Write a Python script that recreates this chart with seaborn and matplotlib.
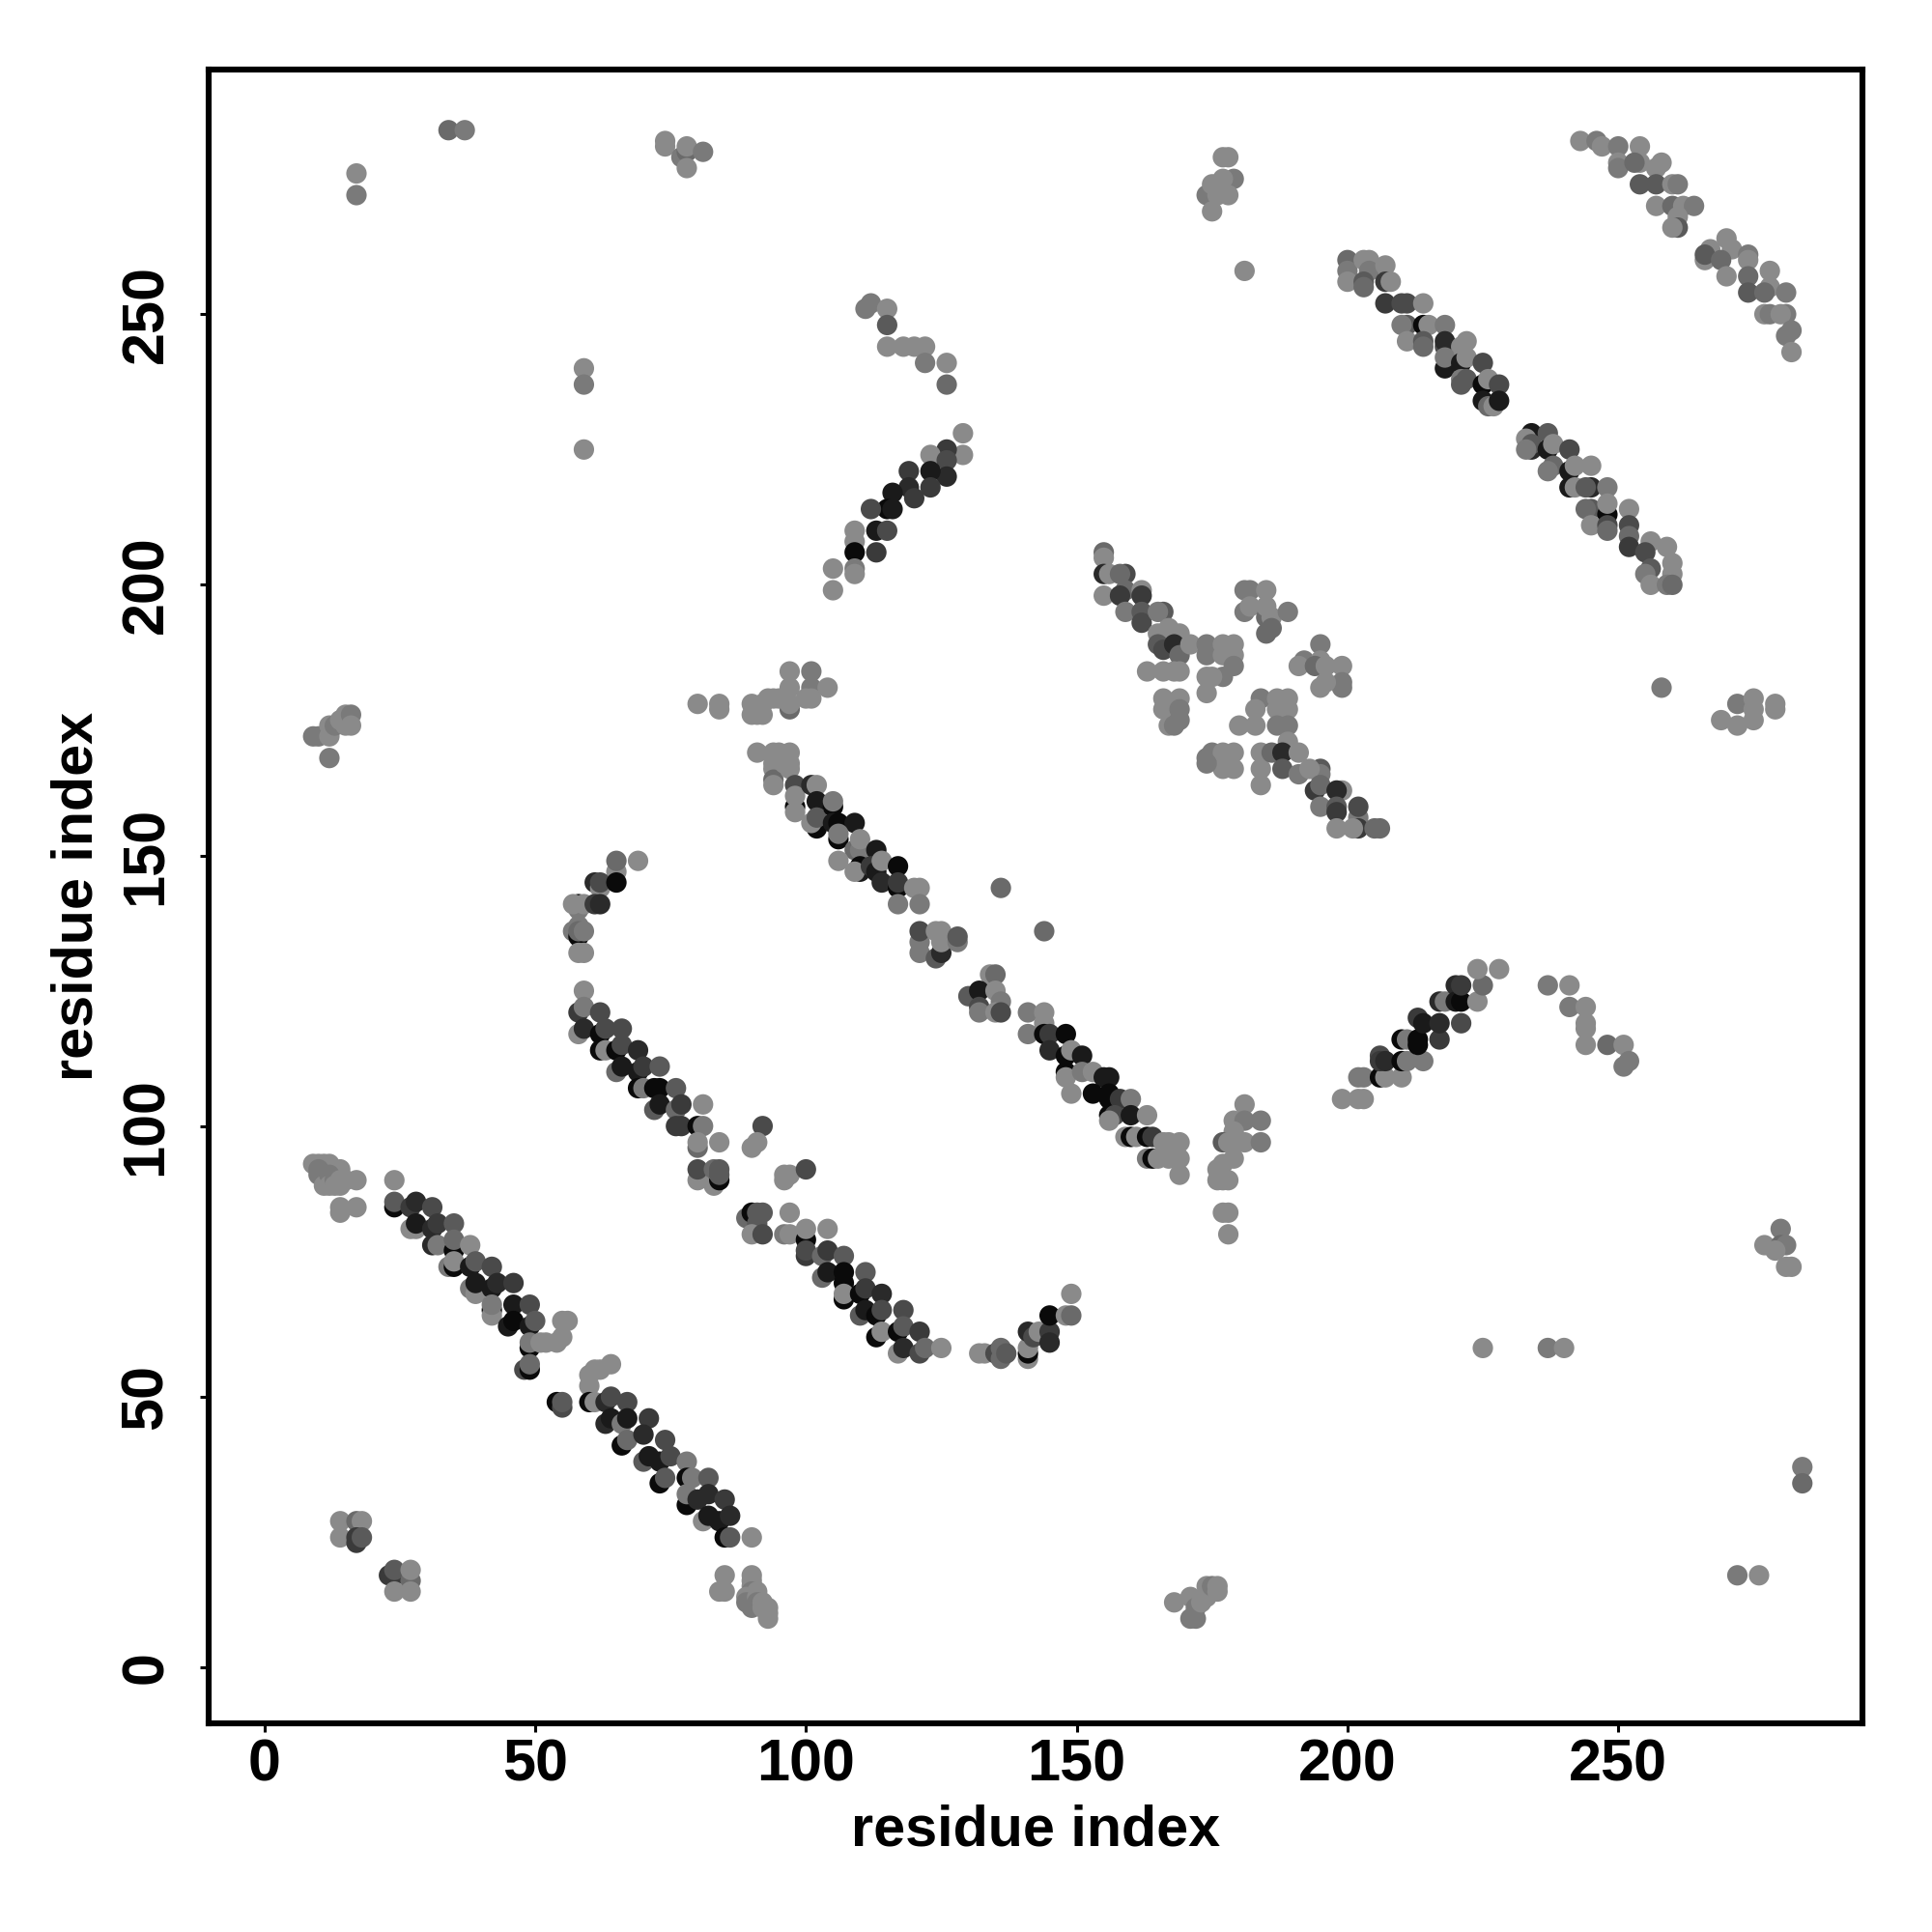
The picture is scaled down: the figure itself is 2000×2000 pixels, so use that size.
import matplotlib
matplotlib.use('Agg')
import matplotlib.pyplot as plt
import pandas as pd
import seaborn as sns

# every contact is (residue x, residue y, grey level 0 = black .. 8 = light grey)
corner_a = [(9,93,8),(10,93,8),(11,93,8),(12,93,8),(13,92,8),(14,92,8),(10,92,7),(10,91,7),(11,90,7),(11,89,8),
            (12,91,7),(12,89,8),(13,90,7),(13,89,8),(14,89,8),(14,90,8),(15,90,8),(17,90,8),(24,90,8),(14,85,8),(14,84,8),(17,85,8)]
helix_a1 = [(24,85,0),(24,86,5),(27,85,3),(28,86,2),(31,85,4),(27,81,8),(28,81,8),(28,82,1),(31,81,2),(32,82,3),(35,82,5),
            (31,78,2),(32,78,7),(35,77,0),(35,79,6),(38,78,8),(34,74,7),(35,74,0),(35,75,8),(38,74,1),(39,75,5),(42,74,4),
            (38,70,7),(39,69,8),(39,71,1),(42,70,1),(43,71,2),(46,71,3),(42,66,0),(42,65,8),(42,67,7),(45,63,1),(46,67,1),(49,67,4),
            (46,64,0),(49,63,1),(50,64,5),(49,59,0),(49,60,7),(51,60,8),(52,60,8),(54,60,8),(55,61,8),(55,64,8),(56,64,8),
            (48,55,4),(49,55,0),(49,56,6),(54,49,0),(55,48,4),(55,49,5)]
helix_a2 = [(64,56,8),(61,55,8),(62,55,8),(60,54,8),(60,52,8),(60,49,0),(61,49,8),(63,49,2),(64,50,4),(67,49,4),
            (63,45,2),(64,46,1),(66,45,7),(67,46,1),(71,46,3),(66,41,0),(67,42,6),(70,43,2),(74,42,4),
            (70,38,5),(71,39,1),(73,38,1),(75,39,4),(78,38,7),(73,34,0),(74,35,5),(78,35,0),(79,35,7),(82,35,5),
            (78,30,0),(78,32,7),(80,31,2),(82,32,2),(85,31,3),(81,27,8),(82,28,1),(84,27,1),(86,28,2),(85,24,0),(86,24,5),(90,24,8)]
corner_b = [(85,17,8),(84,14,8),(85,14,8),(90,17,8),(90,16,8),(90,15,8),(90,14,7),(91,14,8),(89,13,8),(89,12,7),(90,12,7),
            (90,11,7),(91,13,8),(91,12,7),(92,12,8),(92,11,8),(93,11,8),(93,10,8),(93,9,8)]
corner_c = [(14,27,8),(17,27,6),(18,27,8),(14,24,8),(17,23,3),(17,24,3),(18,24,5),(23,17,3),(24,17,3),(24,18,5),(27,16,6),(27,18,8),(24,14,8),(27,14,8)]

hook_b = [(65,147,8),(65,149,6),(69,149,8),(61,145,2),(62,144,8),(62,145,4),(65,145,0),(58,141,0),(58,140,7),(57,141,8),(59,141,8),
          (61,141,3),(62,141,2),(57,136,7),(58,135,0),(58,137,7),(58,136,6),(59,136,7),(58,132,8),(59,132,8),(59,125,8)]
helix_b1 = [(58,121,3),(59,122,7),(62,121,4),(58,117,8),(59,118,2),(62,117,0),(63,118,4),(66,118,4),(62,114,0),(63,114,8),(65,114,0),
            (66,115,4),(69,114,2),(65,110,6),(66,111,1),(69,110,1),(70,111,3),(73,111,5),(69,107,0),(70,107,7),(72,107,0),(73,107,0),(76,107,5),
            (72,103,5),(73,104,1),(76,103,6),(77,104,3),(81,104,8),(76,100,3),(77,100,3),(80,100,0),(81,100,7),(92,100,4),
            (80,96,6),(80,97,8),(84,97,8),(90,96,8),(91,97,8),(80,90,8),(80,92,4),(83,89,8),(84,90,0),(83,92,6),(84,92,5),(84,91,5),
            (96,91,8),(97,91,8),(96,90,8),(100,92,4)]
helix_b2 = [(89,83,6),(90,84,0),(91,84,5),(92,84,5),(91,82,5),(97,84,8),(90,80,8),(92,80,4),(96,80,7),(97,80,8),(100,79,0),(100,81,8),(104,81,8),
            (100,76,3),(100,77,4),(103,76,6),(104,77,3),(107,76,5),(103,72,6),(104,73,1),(107,71,0),(107,73,0),(111,73,5),
            (107,68,0),(107,69,8),(110,69,0),(111,70,3),(114,69,2),(110,65,5),(111,66,1),(113,65,0),(114,66,4),(118,66,4),
            (113,61,0),(114,62,8),(117,62,0),(118,63,5),(121,62,3),(117,58,8),(118,59,2),(121,58,4),(122,59,6),(125,59,8)]
turn_b = [(132,58,8),(133,58,8),(135,58,4),(136,57,6),(136,59,6),(137,58,5),(141,57,8),(141,58,0),(141,59,8),(141,62,2),(142,61,4),
          (143,62,8),(145,62,3),(145,60,2),(145,65,0),(148,65,8),(149,65,6),(149,69,8)]

helix_c1 = [(97,184,8),(101,184,7),(97,181,8),(97,177,6),(97,178,8),(101,181,7),(100,179,8),(101,179,8),(104,181,8),
            (80,178,8),(84,178,8),(84,177,8),(90,178,8),(90,176,8),(91,176,8),(92,176,8),(91,177,8),(92,178,8),(93,179,8),(94,179,8),(95,179,8),
            (91,169,8),(94,169,8),(95,169,8),(97,169,8),(94,167,8),(94,166,8),(94,164,6),(94,163,8),(97,167,8),(97,166,8),(96,167,8),
            (98,159,0),(98,158,8),(98,163,4),(98,161,8),(101,163,2),(102,163,8),(102,155,0),(102,160,1),(101,156,8),(102,157,5),(105,159,0),(105,160,7),
            (105,156,1),(106,156,0),(109,156,1),(106,153,0),(106,154,7),(109,151,6),(110,151,7),(110,153,8),(113,151,1),(106,149,8),
            (110,147,1),(110,148,0),(109,147,8),(112,148,3),(113,147,1),(114,149,8),(117,148,0),(114,145,2),(117,144,0),(117,145,3),
            (120,144,8),(121,144,8),(117,141,7),(121,141,7)]
helix_c2 = [(121,134,7),(121,136,4),(121,132,7),(124,131,5),(125,132,2),(124,136,8),(125,136,8),(125,134,8),(128,134,7),(128,135,5),
            (136,144,6),(144,136,6),(134,128,8),(135,128,6),(130,124,5),(132,125,1),(132,122,4),(132,121,7),(135,125,8),(136,123,7),(135,121,8),(136,121,4),
            (141,121,7),(144,121,8),(144,119,8),(141,117,7),(144,117,0),(145,117,3),(148,117,0),(145,114,2),(148,113,0),(149,114,8),(151,113,1),
            (148,110,0),(148,109,8),(151,110,7),(153,110,8),(155,109,1),(156,109,1),(149,106,8),(153,106,0),(156,105,0),(156,106,0),(158,105,3),(160,105,7),
            (156,102,0),(157,102,4),(156,101,8),(160,102,1),(163,102,8),(159,98,8),(160,98,0),(161,98,8),(163,98,0),(164,98,3)]
cluster_c = [(163,94,7),(164,94,0),(165,94,8),(166,97,8),(167,94,8),(167,97,8),(168,96,8),(169,94,8),(169,97,8),(168,95,8),(169,91,8),
             (181,104,8),(179,101,8),(181,101,7),(184,101,7),(179,99,8),(177,97,5),(178,97,8),(179,97,8),(181,97,8),(184,97,7),
             (179,94,8),(177,93,8),(176,92,8),(176,90,8),(177,90,8),(178,90,8),(177,84,8),(178,84,8),(178,80,8)]

helix_d = [(199,105,8),(202,105,8),(203,105,8),(202,109,7),(203,109,7),(206,109,0),(207,109,8),(210,109,8),
           (206,113,4),(206,112,3),(207,112,2),(210,112,0),(211,112,7),(214,112,7),(210,116,0),(211,116,7),(213,115,0),(213,116,0),(217,116,3),
           (213,120,3),(214,119,1),(217,119,2),(217,123,2),(218,123,7),(221,119,4),(220,126,2),(220,123,1),(221,123,0),(224,123,8),(221,126,3),(225,126,6),(224,129,8),(228,129,8)]
tail_d = [(237,126,7),(241,126,8),(241,122,7),(244,122,8),(244,119,8),(244,118,8),(244,115,8),(248,115,6),(251,115,8),(252,112,7),(251,111,7),
          (225,59,8),(237,59,7),(240,59,8),(280,81,7),(277,78,8),(280,78,6),(281,78,7),(279,77,8),(281,74,8),(282,74,8),(284,37,7),(284,34,6),(272,17,7),(276,17,8),
          (168,12,8),(171,13,8),(172,11,7),(171,9,7),(172,9,7),(174,13,8),(173,12,8),(174,15,8),(175,15,7),(176,15,8),(176,14,8)]

top_left = [(17,276,8),(17,272,7),(34,284,6),(37,284,7),(74,282,8),(74,281,8),(77,279,7),(78,280,6),(78,281,8),(78,277,8),(81,280,7),(59,240,8),(59,237,7),(59,225,8),
            (9,172,7),(10,172,7),(12,168,7),(12,172,8),(12,174,8),(13,174,7),(14,175,8),(15,176,8),(15,174,8),(16,176,7),(16,174,8)]
top_mid = [(111,251,7),(112,252,7),(115,251,8),(115,248,5),(115,244,8),(118,244,8),(120,244,8),(122,244,8),(122,241,7),(126,241,8),(126,237,6)]
helix_e = [(129,228,8),(129,224,8),(126,225,3),(123,224,8),(126,223,4),(126,220,2),(123,221,1),(119,221,3),(123,218,3),(119,218,2),(116,217,1),
           (115,214,0),(116,214,1),(112,214,4),(120,216,3),(113,210,1),(115,210,4),(109,210,8),(109,208,8),(109,206,0),(113,206,3),(105,203,8),(109,203,7),(105,199,8),(109,202,8)]
cluster_f = [(155,206,6),(155,205,8),(155,202,2),(156,202,8),(159,202,4),(158,202,6),(155,198,8),(159,199,6),(158,198,3),(162,199,8),(162,198,3),
             (159,195,7),(162,195,5),(162,193,4),(166,195,5),(165,195,7),(167,192,8),(169,191,8),(165,191,8),(165,189,5),(166,188,4),(168,189,2),(169,187,6),
             (171,189,8),(174,189,7),(174,187,7),(177,189,8),(179,189,8),(177,187,8),(179,187,8),(163,184,8),(166,184,8),(169,184,8),(168,184,8),
             (179,185,7),(174,183,8),(177,183,7),(175,183,8),(174,180,8),(166,179,8),(169,179,8),(166,177,8),(169,177,7),(167,174,8),(168,174,7),(169,175,7)]
cluster_g = [(181,199,7),(182,199,7),(185,199,8),(181,195,7),(182,196,8),(185,194,6),(185,196,8),(186,194,8),(189,195,7),(185,191,6),(186,192,6),
             (192,186,7),(191,185,8),(195,189,7),(195,186,8),(194,185,6),(196,185,8),(199,185,8),(195,181,8),(199,182,7),(199,181,7),(196,182,8),
             (184,179,7),(187,179,8),(189,179,8),(183,177,8),(187,177,8),(189,177,8),(180,174,8),(183,174,8),(187,174,7),(189,174,7),(189,171,8)]
cluster_h = [(174,168,7),(175,169,7),(177,169,8),(179,169,8),(177,166,8),(179,166,8),(174,167,7),(184,169,8),(184,166,8),(184,163,8),(186,169,6),(188,169,2),
             (188,166,5),(191,169,8),(191,165,7),(195,166,5),(195,165,7),(193,166,8),(194,162,3),(195,163,6),(199,162,8),(198,162,2),(195,159,7),
             (198,159,5),(198,158,3),(202,157,7),(202,159,4),(202,155,3),(198,155,8),(201,155,8),(205,155,6),(206,155,6)]

helix_i1 = [(200,260,6),(200,258,7),(200,256,8),(203,260,8),(204,260,8),(204,258,7),(207,259,8),(203,256,5),(203,255,6),(207,256,3),(208,256,8),
            (207,252,3),(210,252,4),(211,252,4),(214,252,8),(211,248,5),(210,248,7),(214,248,0),(215,248,8),(218,248,7),
            (211,245,8),(214,245,5),(214,244,6),(218,244,4),(218,245,2),(222,245,8),(221,244,8),(218,240,1),(218,242,7),(221,241,1),(222,242,8),(225,241,4),
            (221,238,7),(222,238,5),(221,237,5),(225,237,0),(226,238,8),(228,237,4),(225,234,1),(226,233,6),(227,233,8),(228,234,1)]
helix_i2 = [(234,228,1),(237,228,5),(233,227,8),(234,225,2),(234,226,5),(233,225,7),(237,225,1),(238,226,8),(241,225,4),(238,222,6),(237,221,7),
            (241,221,1),(242,222,8),(245,222,8),(241,218,1),(242,218,8),(245,218,2),(244,218,5),(248,218,7),(245,214,5),(244,214,6),(248,213,0),(248,215,8),(252,214,8),
            (245,211,8),(248,211,4),(248,210,6),(252,211,4),(252,209,6),(252,207,3),(256,208,8),(255,206,4),(259,207,8),(256,203,5),(255,202,7),(260,204,8),(260,202,8),
            (256,200,8),(259,200,7),(260,200,6),(258,181,7)]
right_top = [(243,282,8),(246,282,7),(247,281,8),(250,281,7),(254,281,8),(250,278,8),(250,277,7),(254,278,8),(253,278,6),(258,278,8),(257,277,8),
             (254,274,5),(257,274,5),(260,274,8),(261,274,7),(257,270,8),(260,270,6),(262,270,8),(264,270,7),(261,268,8),(261,266,5),(260,266,8),
             (270,264,8),(267,262,8),(266,260,8),(266,261,5),(271,262,8),(269,260,6),(274,261,7),(274,260,8),(270,257,8),(274,257,6),(278,258,8),
             (274,254,5),(278,255,8),(277,254,6),(281,254,7),(277,250,8),(278,250,7),(281,250,7),(280,250,8),(282,247,7),(281,246,7),(282,243,8)]
side_bits = [(174,272,7),(175,269,8),(176,272,8),(177,279,8),(178,279,8),(175,274,8),(179,275,7),(177,275,8),(178,272,8),(181,258,8),
             (269,175,8),(272,178,7),(272,174,8),(275,175,8),(275,179,8),(275,177,8),(279,178,8),(279,177,8)]

x_ticks = [0, 50, 100, 150, 200, 250]
y_ticks = [0, 50, 100, 150, 200, 250]
axis_label = 'residue index'

groups = [corner_a, helix_a1, helix_a2, corner_b, corner_c, hook_b, helix_b1, helix_b2, turn_b, helix_c1, helix_c2,
          cluster_c, helix_d, tail_d, top_left, top_mid, helix_e, cluster_f, cluster_g, cluster_h, helix_i1, helix_i2, right_top, side_bits]
rows = [row for group in groups for row in group]
df = pd.DataFrame(rows, columns=['x', 'y', 'level'])
greys = {n: '#%02x%02x%02x' % (10 + n * 16, 10 + n * 16, 10 + n * 16) for n in range(9)}

sns.set_theme(style='white')
plt.rcParams['font.family'] = ['Liberation Sans', 'DejaVu Sans']
plt.rcParams['font.weight'] = 'bold'

fig = plt.figure(figsize=(10, 10), dpi=200)
ax = fig.add_axes([216.3 / 2000, 216 / 2000, 1711.7 / 2000, 1712 / 2000])
sns.scatterplot(data=df, x='x', y='y', hue='level', palette=greys, s=58, linewidth=0, legend=False, ax=ax)

ax.set_xlim(-10.24, 295.1)
ax.set_ylim(-10.35, 295.2)
ax.set_xticks(x_ticks)
ax.set_yticks(y_ticks)
ax.tick_params(axis='x', length=3.2, width=1.1, color='black', labelsize=22, labelcolor='black', pad=2.5, bottom=True)
ax.tick_params(axis='y', length=3.2, width=1.1, color='black', labelsize=22, labelcolor='black', pad=9.5, left=True)
for lab in ax.get_yticklabels():
    lab.set_rotation(90)
    lab.set_va('center')
for side in ax.spines.values():
    side.set_linewidth(2.2)
    side.set_color('black')
ax.set_xlabel(axis_label, fontsize=21.4, fontweight='bold', color='black', labelpad=4)
ax.set_ylabel(axis_label, fontsize=21.4, fontweight='bold', color='black', labelpad=6)

plt.savefig('out.png', dpi=200)
